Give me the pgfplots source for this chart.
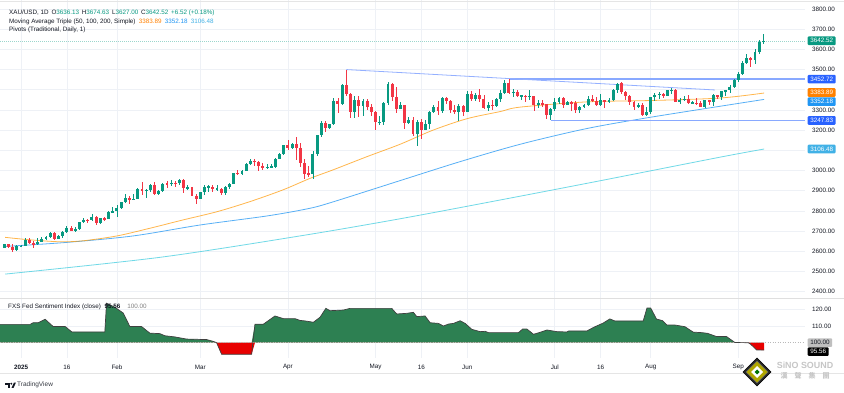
\documentclass[border=0pt]{standalone}
\usepackage{pgfplots}
\pgfplotsset{compat=1.18}
\usepackage{pgfplotstable}
\usepackage{fontspec}
\setmainfont{Liberation Sans}
\newfontfamily\cjk{Noto Sans CJK TC}
\definecolor{upc}{HTML}{089981}
\definecolor{dnc}{HTML}{F23645}
\definecolor{txt}{HTML}{131722}
\definecolor{maA}{HTML}{FF9800}
\definecolor{maB}{HTML}{2196F3}
\definecolor{maC}{HTML}{4DD0E1}
\definecolor{pivc}{HTML}{2962FF}
\definecolor{grd}{HTML}{EEF1F6}
\definecolor{fxg}{RGB}{45,128,82}
\definecolor{fxr}{RGB}{232,0,0}
\newcommand\tv{\fontsize{6.3}{7.5}\selectfont}

\pgfplotstableread{
i o h l c
-4 2617 2638 2615 2634
-1 2606 2630 2602 2624
0 2624 2630 2620 2626
1 2626 2665 2624 2658
4 2636 2665 2632 2648
5 2648 2670 2645 2662
6 2662 2675 2657 2670
7 2670 2697 2665 2690
9 2662 2679 2660 2677
10 2677 2700 2668 2696
11 2696 2725 2690 2715
13 2702 2718 2696 2708
14 2708 2747 2703 2745
15 2745 2763 2742 2755
17 2754 2786 2752 2771
19 2740 2765 2737 2763
21 2760 2800 2758 2794
22 2794 2817 2789 2798
23 2798 2830 2772 2815
24 2815 2845 2809 2842
25 2842 2882 2838 2866
27 2856 2886 2853 2861
28 2861 2911 2859 2907
30 2898 2908 2864 2905
31 2905 2935 2894 2928
33 2882 2905 2881 2898
34 2898 2937 2893 2935
36 2933 2955 2922 2939
38 2936 2956 2930 2952
40 2915 2927 2903 2916
43 2858 2894 2857 2893
44 2893 2928 2880 2918
45 2918 2930 2895 2920
47 2910 2930 2897 2910
49 2889 2922 2880 2916
50 2916 2940 2906 2934
51 2934 2990 2932 2988
53 2984 3001 2980 3000
54 3000 3038 2999 3034
55 3034 3055 3025 3047
59 3011 3030 3008 3019
60 3019 3033 3010 3019
61 3019 3060 3013 3057
62 3057 3087 3055 3084
63 3084 3128 3076 3124
65 3113 3135 3105 3133
70 2982 3099 2957 3082
71 3082 3176 3072 3175
72 3175 3245 3168 3237
74 3210 3232 3204 3229
75 3229 3357 3227 3343
77 3327 3430 3325 3424
80 3288 3367 3260 3348
82 3319 3352 3268 3343
86 3239 3269 3223 3241
87 3241 3337 3225 3334
88 3334 3436 3324 3431
91 3306 3338 3305 3325
93 3234 3264 3229 3249
95 3179 3252 3120 3240
97 3203 3250 3200 3230
98 3230 3295 3205 3290
99 3290 3325 3285 3314
101 3294 3366 3287 3357
105 3288 3330 3245 3318
107 3289 3393 3289 3381
109 3353 3385 3345 3374
112 3310 3338 3293 3326
114 3322 3360 3315 3355
115 3355 3398 3340 3386
116 3386 3446 3380 3432
118 3385 3404 3366 3388
120 3369 3376 3348 3370
122 3368 3397 3348 3368
124 3323 3348 3311 3332
127 3274 3310 3248 3303
128 3303 3358 3297 3338
129 3338 3365 3330 3357
131 3326 3345 3323 3337
134 3302 3318 3283 3313
135 3313 3330 3310 3325
136 3325 3369 3322 3356
139 3324 3377 3320 3347
141 3338 3361 3332 3350
142 3350 3402 3345 3397
143 3397 3434 3383 3431
148 3314 3334 3308 3326
150 3274 3315 3270 3289
151 3289 3363 3281 3363
152 3363 3385 3345 3373
153 3373 3390 3352 3381
155 3369 3400 3367 3397
156 3397 3409 3381 3398
158 3341 3358 3331 3348
159 3348 3368 3345 3356
161 3335 3345 3332 3336
164 3315 3350 3311 3347
166 3339 3379 3321 3372
168 3366 3394 3351 3393
169 3393 3399 3368 3397
170 3397 3423 3384 3416
171 3416 3453 3408 3448
172 3448 3490 3437 3477
173 3477 3540 3473 3533
174 3533 3578 3528 3559
176 3545 3600 3526 3587
177 3587 3646 3578 3636
178 3636.13 3674.63 3627.00 3642.52
}\upT

\pgfplotstableread{
i o h l c
-3 2634 2638 2616 2621
-2 2621 2634 2597 2606
2 2658 2665 2634 2640
3 2640 2650 2615 2636
8 2690 2693 2656 2662
12 2715 2725 2699 2702
16 2755 2758 2741 2754
18 2771 2773 2730 2740
20 2763 2770 2751 2760
26 2866 2873 2834 2856
29 2907 2942 2880 2898
32 2928 2943 2877 2882
35 2935 2947 2914 2933
37 2939 2947 2918 2936
39 2952 2956 2890 2915
41 2916 2920 2874 2876
42 2876 2882 2832 2858
46 2920 2928 2894 2910
48 2910 2914 2880 2889
52 2988 3005 2978 2984
56 3047 3057 3022 3044
57 3044 3047 2999 3023
58 3023 3036 3002 3011
64 3124 3149 3100 3113
66 3133 3167 3054 3114
67 3114 3136 3015 3037
68 3037 3055 2957 2984
69 2984 3023 2970 2982
73 3237 3245 3193 3210
76 3343 3357 3283 3327
78 3424 3500 3367 3381
79 3381 3386 3260 3288
81 3348 3371 3266 3319
83 3343 3353 3300 3316
84 3316 3328 3268 3288
85 3288 3294 3202 3239
89 3431 3435 3345 3364
90 3364 3415 3285 3306
92 3325 3326 3208 3234
94 3249 3265 3170 3179
96 3240 3253 3154 3203
100 3314 3345 3277 3294
102 3357 3365 3330 3342
103 3342 3350 3285 3300
104 3300 3325 3280 3288
106 3318 3325 3271 3289
108 3381 3392 3343 3353
110 3374 3403 3340 3353
111 3353 3375 3307 3310
113 3326 3349 3301 3322
117 3432 3452.72 3380 3385
119 3388 3399 3362 3369
121 3370 3375 3340 3368
123 3368 3369 3295 3323
125 3332 3350 3317 3328
126 3328 3330 3255 3274
130 3357 3366 3311 3326
132 3337 3343 3296 3336
133 3336 3345 3287 3302
137 3356 3375 3340 3343
138 3343 3366 3321 3324
140 3347 3350 3309 3338
144 3431 3439 3381 3387
145 3387 3396 3351 3368
146 3368 3373 3325 3337
147 3337 3345 3301 3314
149 3326 3334 3268 3274
154 3381 3385 3358 3369
157 3398 3405 3341 3341
160 3356 3375 3330 3335
162 3336 3358 3323 3332
163 3332 3345 3314 3315
165 3347 3351 3324 3339
167 3372 3376 3352 3366
175 3559 3563 3511 3545
}\dnT

\pgfplotstableread{
i v
-3.8 2669
2.0 2657
9.4 2647
14.9 2652
23.0 2676
30.9 2714
38.8 2755
47.0 2796
54.9 2846
62.8 2904
69.3 2961
74.8 3003
83.0 3069
90.9 3130
98.8 3200
107.0 3257
114.9 3292
119.7 3314
135.7 3340
151.6 3347
167.6 3359
178.2 3383.89
}\maAT

\pgfplotstableread{
i v
-3.8 2624
11.0 2644
26.9 2676
42.9 2730
59.0 2775
68.6 2810
74.1 2840
90.9 2950
105.3 3044
119.7 3130
135.7 3208
151.6 3266
178.2 3352.18
}\maBT

\pgfplotstableread{
i v
-3.8 2487
33.3 2570
66.9 2676
90.9 2761
114.9 2854
138.8 2949
167.6 3066
178.2 3106.48
}\maCT

\pgfplotstableread{
i v
-5.04 111.1
2.2 111.1
2.9 112.1
4.1 112.1
5.8 114.2
7.7 109.8
10.6 109.8
12.2 106.5
20.1 106.5
20.5 123.9
22.5 121.5
24.5 118.0
26.1 109.8
28.9 109.8
30.9 105.8
33.3 105.5
34.5 104.2
36.9 103.5
39.7 102.2
44.5 101.9
46.1 100.8
46.9 100.0
48.1 93.0
55.3 93.0
56.1 111.2
58.1 111.2
60.9 116.2
62.9 114.6
65.7 114.6
66.9 113.5
68.1 113.2
70.1 112.4
71.7 115.4
73.1 120.8
74.1 119.4
77.3 119.8
78.9 120.8
88.9 120.8
90.1 117.4
92.5 117.8
94.1 118.4
94.9 115.8
96.9 116.2
98.1 112.1
100.1 111.7
101.3 110.1
102.5 111.3
103.7 111.7
105.3 113.3
106.5 111.7
108.1 108.1
110.1 106.7
111.3 106.9
112.1 106.1
119.3 106.1
120.3 108.3
121.3 108.3
122.9 105.1
124.5 106.3
126.1 107.7
128.5 106.7
130.9 106.5
131.3 107.1
135.7 107.1
137.3 109.3
139.6 111.9
141.2 114.4
142.4 113.2
149.2 113.2
150.1 121.0
151.0 121.0
152.4 114.3
153.8 113.4
154.9 110.7
156.8 110.7
159.2 109.7
161.2 106.4
163.2 106.1
164.6 105.7
166.8 103.7
169.2 103.7
171.2 100.1
174.4 100.0
175.0 99.0
176.4 95.6
178.2 95.56
}\sentT

\pgfplotsset{
  tvaxis/.style={scale only axis, width=805pt, xmin=-5.04, xmax=188,
    anchor=south west,
    axis line style={draw=none}, major tick length=0pt, tick style={draw=none},
    grid style={draw=grd, line width=0.6pt}, xmajorgrids, ymajorgrids,
    xtick={0,11,23,43,64,85,96,107,128,139,151,172},
    yticklabel pos=right,
    yticklabel style={font=\tv, text=txt, anchor=west, inner sep=0pt, xshift=7pt},
    clip mode=individual},
  wick/.style={draw=none, mark=none, error bars/.cd, y dir=both, y explicit,
    error mark=none, error bar style={draw=#1, line width=0.8pt}},
  body/.style={draw=none, mark=none, error bars/.cd, y dir=both, y explicit,
    error mark=none, error bar style={draw=#1, line width=2.9pt}},
}
\tikzset{
  lbl/.style={anchor=west, xshift=2.5pt, font=\tv, text=white, inner xsep=2.6pt,
    inner ysep=0pt, minimum height=8.6pt, rounded corners=1pt},
}

\begin{document}
\begin{tikzpicture}[x=1pt,y=1pt]
\useasboundingbox (0,0) rectangle (844,393);
\fill[white] (0,0) rectangle (844,393);

% ---------------- price pane ----------------
\begin{axis}[tvaxis, at={(0pt,95pt)}, height=298pt, ymin=2368.6, ymax=3844.6,
  xticklabel=\empty,
  ytick={2400,2500,...,3800},
  yticklabels={2400.00,2500.00,2600.00,2700.00,2800.00,2900.00,3000.00,,3200.00,3300.00,,3500.00,3600.00,3700.00,3800.00},
]
\addplot[upc!40, line width=0.5pt, dash pattern=on 1pt off 1pt] coordinates {(-5.04,3642.52) (188,3642.52)};
\addplot[maC, opacity=0.8, line width=0.8pt, smooth, tension=0.5] table[x=i,y=v] {\maCT};
\addplot[maB, opacity=0.75, line width=0.8pt, smooth, tension=0.5] table[x=i,y=v] {\maBT};
\addplot[maA, opacity=0.7, line width=0.8pt, smooth, tension=0.5] table[x=i,y=v] {\maAT};
\addplot[pivc!55, line width=1.3pt] coordinates {(117,3452.72) (188,3452.72)};
\addplot[pivc!55, line width=1.3pt] coordinates {(127,3247.83) (188,3247.83)};
\addplot[pivc!50, line width=0.8pt] coordinates {(78,3500) (166.4,3399)};
\addplot[wick=upc] table[x=i, y expr={(\thisrow{h}+\thisrow{l})/2}, y error expr={(\thisrow{h}-\thisrow{l})/2}] {\upT};
\addplot[wick=dnc] table[x=i, y expr={(\thisrow{h}+\thisrow{l})/2}, y error expr={(\thisrow{h}-\thisrow{l})/2}] {\dnT};
\addplot[body=upc] table[x=i, y expr={(\thisrow{o}+\thisrow{c})/2}, y error expr={max(abs(\thisrow{c}-\thisrow{o})/2,2.5)}] {\upT};
\addplot[body=dnc] table[x=i, y expr={(\thisrow{o}+\thisrow{c})/2}, y error expr={max(abs(\thisrow{c}-\thisrow{o})/2,2.5)}] {\dnT};
\node[lbl, fill=upc] at (axis cs:188,3642.52) {3642.52};
\node[lbl, fill=pivc] at (axis cs:188,3452.72) {3452.72};
\node[lbl, fill=maA!85!red] at (axis cs:188,3386.4) {3383.89};
\node[lbl, fill=maB] at (axis cs:188,3340.9) {3352.18};
\node[lbl, fill=pivc] at (axis cs:188,3247.83) {3247.83};
\node[lbl, fill=maC!85!blue] at (axis cs:188,3106.48) {3106.48};
\end{axis}

% ---------------- sentiment pane (values plotted relative to the 100 line) ----------------
\begin{axis}[tvaxis, at={(0pt,35pt)}, height=60pt, ymin=-9.27, ymax=27.09,
  ytick={10,20}, yticklabels={110.00,120.00},
  xticklabels={\textbf{2025},16,Feb,Mar,Apr,May,16,Jun,Jul,16,Aug,Sep},
  xticklabel style={font=\tv, text=txt, anchor=center, inner sep=0pt, yshift=-9pt},
]
\addplot[fill=fxg, draw=none] table[x=i, y expr={max(\thisrow{v}-100,0)}] {\sentT} \closedcycle;
\addplot[fill=fxr, draw=none] table[x=i, y expr={min(\thisrow{v}-100,0)}] {\sentT} \closedcycle;
\addplot[gray!55, line width=0.5pt, dash pattern=on 1pt off 1.5pt] coordinates {(-5.04,0) (188,0)};
\addplot[black!75, line width=0.7pt] table[x=i, y expr={\thisrow{v}-100}] {\sentT};
\node[lbl, fill=gray!50, text=txt] at (axis cs:188,0) {100.00};
\node[lbl, fill=black] at (axis cs:188,-5.4) {95.56};
\end{axis}

\draw[gray!20, line width=0.6pt] (0,392) -- (844,392);
\draw[gray!25, line width=0.8pt] (0,95) -- (844,95);
\draw[gray!20, line width=0.6pt] (0,20) -- (844,20);

\node[anchor=west, font=\tv, text=txt, inner sep=0pt] at (9,379.7)
  {XAU/USD, 1D\hspace{1pt} O\textcolor{upc}{3636.13}\hspace{1pt} H\textcolor{upc}{3674.63}\hspace{1pt} L\textcolor{upc}{3627.00}\hspace{1pt} C\textcolor{upc}{3642.52}\hspace{1pt} \textcolor{upc}{+6.52 (+0.18\%)}};
\node[anchor=west, font=\tv, text=txt, inner sep=0pt] at (9,371.3)
  {Moving Average Triple (50, 100, 200, Simple)\hspace{1.5pt} \textcolor{maA!85!red}{3383.89}\hspace{1.5pt} \textcolor{maB}{3352.18}\hspace{1.5pt} \textcolor{maC!85!blue}{3106.48}};
\node[anchor=west, font=\tv, text=txt, inner sep=0pt] at (9,363.3)
  {Pivots (Traditional, Daily, 1)};
\node[anchor=west, font=\tv, text=txt, inner sep=0pt] at (8,86.3)
  {FXS Fed Sentiment Index (close)\hspace{2pt} \textbf{95.56}\hspace{5pt} \textcolor{gray}{100.00}};

\fill[txt] (5,8.3) rectangle (9.6,10.4);
\fill[txt] (7.5,5.2) rectangle (9.6,10.4);
\fill[txt] (11.3,9.3) circle (1.1);
\fill[txt] (11.6,5.2) -- (13.9,10.4) -- (15.9,10.4) -- (13.6,5.2) -- cycle;
\node[anchor=west, font=\fontsize{6.5}{7.5}\selectfont, text=txt!85, inner sep=0pt] at (17,7.8) {TradingView};

\filldraw[fill=black!85, draw=black] (757,35) -- (771,21) -- (757,7) -- (743,21) -- cycle;
\filldraw[fill=olive!70!yellow, draw=black!60] (757,32) -- (768,21) -- (757,10) -- (746,21) -- cycle;
\fill[white] (757,27) -- (763,21) -- (757,15) -- (751,21) -- cycle;
\fill[green!45!black] (757,23.5) -- (759.5,21) -- (757,18.5) -- (754.5,21) -- cycle;
\node[font=\bfseries\fontsize{8.9}{9}\selectfont, text=gray!45, inner sep=0pt] at (805,27.3) {SiNO SOUND};
\node[font=\cjk\bfseries\fontsize{7}{8}\selectfont, text=gray!45, inner sep=0pt] at (805,17.3) {漢\hspace{7pt}聲\hspace{7pt}集\hspace{7pt}團};
\end{tikzpicture}
\end{document}
